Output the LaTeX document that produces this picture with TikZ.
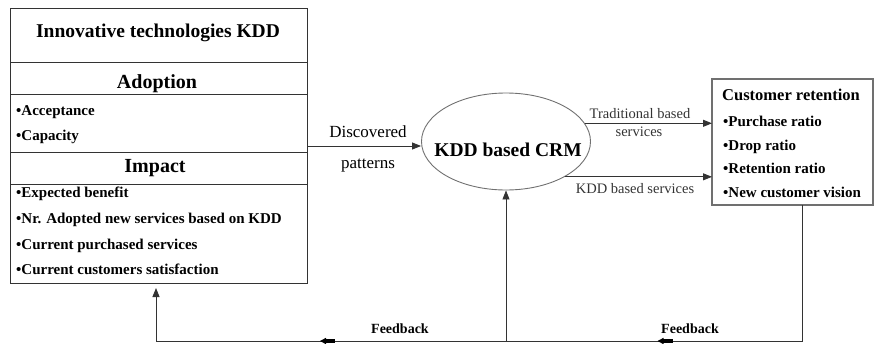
\documentclass[tikz,border=0pt]{standalone}
\usepackage{fontspec}
\setmainfont{Liberation Serif}[BoldFont={Liberation Serif Bold}]
\usetikzlibrary{arrows.meta,decorations.markings,shapes.geometric}
\definecolor{ln}{HTML}{333333}
\definecolor{lg}{HTML}{707070}
\begin{document}
\begin{tikzpicture}[x=1pt,y=-1pt,
  box/.style={draw=ln, line width=0.9pt, inner sep=0pt, outer sep=0pt, anchor=north west},
  line/.style={draw=ln, line width=0.9pt},
  tip/.style={-{Triangle[length=9pt,width=7pt]}},
  midtip/.style={postaction={decorate}, decoration={markings, mark=at position #1 with {
      \fill[black] (4pt,0pt) -- (-2pt,3.2pt) -- (-2pt,-3.2pt) -- cycle;
      \fill[black] (-1pt,-1.6pt) rectangle (-11pt,1.6pt);}}},
  txt/.style={inner sep=0pt, anchor=base},
  ltxt/.style={inner sep=0pt, anchor=base west},
  fTitle/.style={font=\fontsize{19.5}{22}\selectfont\bfseries},
  fHead/.style={font=\fontsize{20}{24}\selectfont\bfseries},
  fItem/.style={font=\fontsize{15}{18}\selectfont\bfseries},
  fReg/.style={font=\fontsize{17}{20}\selectfont},
  fSmall/.style={font=\fontsize{14.5}{17}\selectfont, text=ln},
  fFeed/.style={font=\fontsize{14}{17}\selectfont\bfseries}]
\useasboundingbox (0,0) rectangle (876,343);

% left box
\node[box, minimum width=297pt, minimum height=275pt] (ltbox) at (10,8) {};
\coordinate (h1) at (0,62);
\coordinate (h2) at (0,94);
\coordinate (h3) at (0,152);
\coordinate (h4) at (0,184);
\foreach \h in {h1,h2,h3,h4}
  \draw[line] (ltbox.west |- \h) -- (ltbox.east |- \h);

\node[txt, fTitle] (title) at (158,37) {Innovative technologies KDD};
\node[txt, fHead] (adopt) at (157,88) {Adoption};
\node[ltxt, fItem] (acc) at (16,115) {•Acceptance};
\node[ltxt, fItem] (cap) at (16,140) {•Capacity};
\node[txt, fHead] (impact) at (155,172) {Impact};
\node[ltxt, fItem] (i1) at (16,197) {•Expected benefit};
\node[ltxt, fItem] (i2) at (16,223) {•Nr. Adopted new services based on KDD};
\node[ltxt, fItem] (i3) at (16,249) {•Current purchased services};
\node[ltxt, fItem] (i4) at (16,274) {•Current customers satisfaction};

% ellipse
\node[ellipse, draw=lg, line width=0.9pt, inner sep=0pt, minimum width=169pt, minimum height=97pt] (crm) at (506,141.5) {};
\node[txt, fTitle] (crmtxt) at (508,156) {KDD based CRM};

% customer box
\node[box, draw=lg, line width=1.1pt, minimum width=161pt, minimum height=126pt] (crbox) at (712,79) {};
\node[ltxt, font=\fontsize{16.5}{20}\selectfont\bfseries] (crt) at (722,100) {Customer retention};
\node[ltxt, fItem] (c1) at (723,126) {•Purchase ratio};
\node[ltxt, fItem] (c2) at (723,150) {•Drop ratio};
\node[ltxt, fItem] (c3) at (723,173) {•Retention ratio};
\node[ltxt, fItem] (c4) at (723,197) {•New customer vision};

% discovered patterns
\coordinate (y146) at (0,146);
\draw[line, tip] (ltbox.east |- y146) -- (crm.west |- y146);
\node[txt, fReg] (disc) at (368,137) {Discovered};
\node[txt, fReg] (patt) at (368,168) {patterns};

% services arrows
\draw[line, tip] (crm.13) -- (crm.13 -| crbox.west);
\node[txt, fSmall] (trad1) at (640,118) {Traditional based};
\node[txt, fSmall] (trad2) at (639,136) {services};
\draw[line, tip] (crm.-31) -- (crm.-31 -| crbox.west);
\node[txt, fSmall] (kdds) at (635,193) {KDD based services};

% feedback loop
\coordinate (c802) at (802,0);
\coordinate (c156) at (156,0);
\coordinate (bot) at (0,341);
\draw[line, midtip=0.64] (crbox.south -| c802) -- (c802 |- bot) -- (crm.south |- bot);
\draw[line, tip] (crm.south |- bot) -- (crm.south);
\draw[line, midtip=0.52] (crm.south |- bot) -- (c156 |- bot);
\draw[line, tip, shorten >=5pt] (c156 |- bot) -- (c156 |- ltbox.south);
\node[txt, fFeed] (fb1) at (400,333) {Feedback};
\node[txt, fFeed] (fb2) at (690,333) {Feedback};
\end{tikzpicture}
\end{document}
